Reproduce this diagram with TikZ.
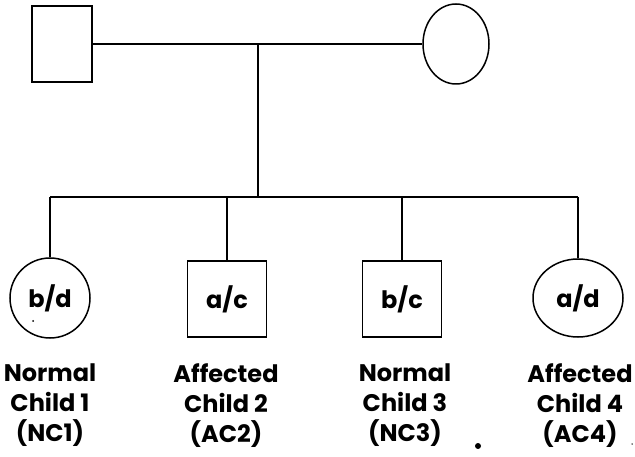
\documentclass[tikz,border=0pt]{standalone}
\usepackage{fontspec}
\setmainfont{Poppins}
\usetikzlibrary{shapes.geometric}
\begin{document}
\begin{tikzpicture}[x=1pt,y=-1pt,line width=1.5pt,
  lab/.style={font=\bfseries\fontsize{24}{30}\selectfont},
  male/.style={draw,rectangle,inner sep=0pt,minimum width=#1,minimum height=76pt,lab},
  female/.style={draw,ellipse,inner sep=0pt,lab},
  caption/.style={lab,align=center,anchor=north,inner sep=0pt},
  speck/.style={fill,circle,inner sep=0pt,minimum size=#1}]
  \useasboundingbox (0,0) rectangle (635,457);

  % parents
  \node[male=60pt] (father) at (62,44) {};
  \node[female,minimum width=66pt,minimum height=80pt] (mother) at (456,44) {};
  \draw (father.east) -- (mother.west);

  % children
  \node[female,minimum width=80pt,minimum height=80pt] (c1) at (50,298) {b/d};
  \node[male=79pt] (c2) at (227,299) {a/c};
  \node[male=79pt] (c3) at (402,299) {b/c};
  \node[female,minimum width=90pt,minimum height=78pt] (c4) at (578,298) {a/d};

  % line of descent and sibship line
  \coordinate (mid) at (258,44);
  \coordinate (sib) at (258,197);
  \draw (mid) -- (sib);
  \draw (c1.north |- sib) -- (c4.north |- sib);
  \foreach \c in {c1,c2,c3,c4} \draw (\c.north |- sib) -- (\c.north);

  % captions
  \node[caption] (t1) at (50,363) {Normal\\Child 1\\(NC1)};
  \node[caption] (t2) at (226,363) {Affected\\Child 2\\(AC2)};
  \node[caption] (t3) at (405,363) {Normal\\Child 3\\(NC3)};
  \node[caption] (t4) at (580,363) {Affected\\Child 4\\(AC4)};

  % dots
  \node[speck=6pt] (d1) at (478,446) {};
  \node[speck=2pt] (d2) at (33,321) {};
  \node[speck=1.5pt] (d3) at (632,444) {};
\end{tikzpicture}
\end{document}
